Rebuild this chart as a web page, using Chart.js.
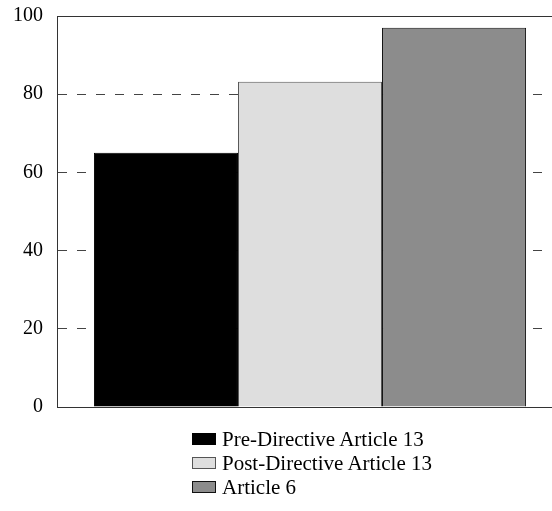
<!DOCTYPE html>
<html lang="en">
<head>
    <meta charset="UTF-8">
    <title>Article 13 / Article 6</title>
    <script src="https://cdn.jsdelivr.net/npm/chart.js"></script>
    <style>
        html, body { margin: 0; padding: 0; background: #fff; overflow: hidden; }
        #wrap { position: relative; width: 552px; height: 511px; overflow: hidden; }
        #chart { position: absolute; left: 0; top: -10px; }
        #legend { position: absolute; left: 192px; top: 427px; font-family: "Liberation Serif", "DejaVu Serif", serif; font-size: 21px; color: #000; }
        .item { height: 24px; line-height: 24px; display: flex; align-items: center; }
        .box { width: 22px; height: 10px; margin-right: 6px; border: 1px solid #000; }
    </style>
</head>
<body>
<div id="wrap">
    <canvas id="chart" width="566" height="443"></canvas>
    <div id="legend"></div>
</div>
<script>
    // data
    const categories = [''];
    const seriesNames = ['Pre-Directive Article 13', 'Post-Directive Article 13', 'Article 6'];
    const seriesValues = [[65.0], [83.2], [97.0]];
    const yTicks = [0, 20, 40, 60, 80, 100];

    const fills = ['#000000', '#dedede', '#8c8c8c'];
    const edges = ['#000000', '#555555', '#111111'];

    const topLine = {
        id: 'topLine',
        afterDraw(chart) {
            const { ctx, chartArea } = chart;
            ctx.save();
            ctx.strokeStyle = '#333';
            ctx.lineWidth = 1;
            ctx.beginPath();
            ctx.moveTo(chartArea.left, chartArea.top + 0.5);
            ctx.lineTo(chartArea.right, chartArea.top + 0.5);
            ctx.stroke();
            ctx.restore();
        }
    };

    new Chart(document.getElementById('chart'), {
        type: 'bar',
        data: {
            labels: categories,
            datasets: seriesNames.map((name, i) => ({
                label: name,
                data: seriesValues[i],
                backgroundColor: fills[i],
                borderColor: edges[i],
                borderWidth: 1,
                borderSkipped: 'bottom'
            }))
        },
        options: {
            responsive: false,
            animation: false,
            devicePixelRatio: 1,
            categoryPercentage: 0.854,
            barPercentage: 1,
            layout: { padding: { top: 5, right: 3, bottom: 0, left: 0 } },
            plugins: {
                legend: { display: false },
                tooltip: { enabled: false }
            },
            scales: {
                x: {
                    ticks: { display: false },
                    grid: { display: false, drawTicks: false },
                    border: { display: true, color: '#333', width: 1 },
                    afterFit(scale) { scale.height = 0; }
                },
                y: {
                    min: 0,
                    max: 100,
                    afterBuildTicks(scale) { scale.ticks = yTicks.map(v => ({ value: v })); },
                    ticks: {
                        padding: 14,
                        color: '#000',
                        font: { family: '"Liberation Serif", serif', size: 20 }
                    },
                    grid: {
                        drawTicks: false,
                        lineWidth: 1,
                        color: ctx => (ctx.tick && (ctx.tick.value === 0 || ctx.tick.value === 100)) ? 'rgba(0,0,0,0)' : '#444'
                    },
                    border: { display: true, color: '#333', width: 1, dash: [9, 10] },
                    afterFit(scale) { scale.width = 57; }
                }
            }
        },
        plugins: [topLine]
    });

    // legend, one entry per line
    const legend = document.getElementById('legend');
    seriesNames.forEach((name, i) => {
        const row = document.createElement('div');
        row.className = 'item';
        const box = document.createElement('span');
        box.className = 'box';
        box.style.background = fills[i];
        box.style.borderColor = edges[i];
        row.appendChild(box);
        row.appendChild(document.createTextNode(name));
        legend.appendChild(row);
    });
</script>
</body>
</html>
